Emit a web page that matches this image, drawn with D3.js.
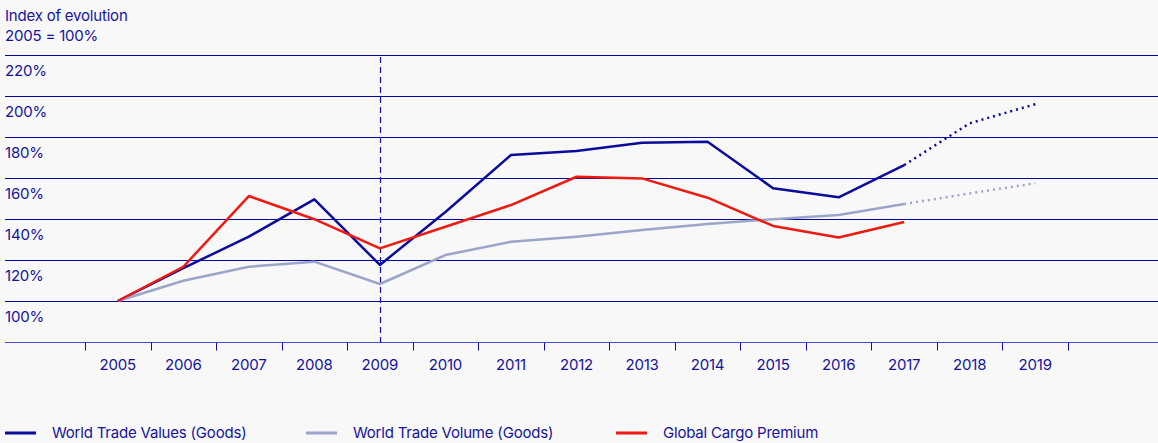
<!DOCTYPE html>
<html>
<head>
<meta charset="utf-8">
<script src="https://cdn.jsdelivr.net/npm/d3@7.9.0/dist/d3.min.js"></script>
<style>
  html, body { margin: 0; padding: 0; background: #f8f8f8; }
  svg { display: block; font-family: Inter, 'Noto Sans', sans-serif; }
  text { fill: #14149c; font-size: 15px; letter-spacing: -0.2px; }
</style>
</head>
<body>
<svg id="chart" width="1158" height="443"></svg>
<script>
const years = [2005, 2006, 2007, 2008, 2009, 2010, 2011, 2012, 2013, 2014, 2015, 2016, 2017, 2018, 2019];
const tradeValues = [100, 116, 131.4, 149.6, 117.6, 143.4, 171.2, 173.2, 177.2, 177.7, 155, 150.6, 166.3, 186.7, 196];
const tradeVolume = [100, 109.9, 116.7, 119.2, 108.3, 122.4, 128.9, 131.4, 134.6, 137.6, 139.9, 142, 147.3, 152.5, 157.4];
const cargoPremium = [100, 116.7, 151.2, 139.9, 125.7, 136.2, 146.8, 160.6, 159.8, 150.4, 136.6, 131, 138.5];
const yTicks = [100, 120, 140, 160, 180, 200, 220];
const lastActualYear = 2017;
const markerYear = 2009;

const series = [
  { name: 'World Trade Values (Goods)', values: tradeValues, color: '#0b0b9c' },
  { name: 'World Trade Volume (Goods)', values: tradeVolume, color: '#9ba5c9' },
  { name: 'Global Cargo Premium', values: cargoPremium, color: '#ee1a12' }
];

const width = 1158;
const svg = d3.select('#chart');

const x = d3.scaleBand().domain(years).range([85, 1068]);
const y = d3.scaleLinear().domain([80, 220]).range([342, 55]);
const cx = (yr) => x(yr) + x.bandwidth() / 2;

// title
svg.append('text').attr('x', 5).attr('y', 21).text('Index of evolution');
svg.append('text').attr('x', 5).attr('y', 41).text('2005 = 100%');

// gridlines with labels under each line
const grid = svg.append('g');
grid.selectAll('line')
  .data(yTicks)
  .join('line')
  .attr('x1', 5)
  .attr('x2', width)
  .attr('y1', (d) => Math.round(y(d)) + 0.5)
  .attr('y2', (d) => Math.round(y(d)) + 0.5)
  .attr('stroke', '#0606a0')
  .attr('stroke-width', 1);
grid.selectAll('text')
  .data(yTicks)
  .join('text')
  .attr('x', 5)
  .attr('y', (d) => y(d) + 20.5)
  .text((d) => `${d}%`);

// x axis baseline, ticks at band edges, labels at centres
const base = Math.round(y(80)) + 0.5;
svg.append('line')
  .attr('x1', 5).attr('x2', width)
  .attr('y1', base).attr('y2', base)
  .attr('stroke', '#4b4bcc').attr('stroke-width', 1);

const edges = years.map((d) => x(d)).concat([x(years[years.length - 1]) + x.bandwidth()]);
svg.append('g').selectAll('line')
  .data(edges)
  .join('line')
  .attr('x1', (d) => Math.round(d) + 0.5)
  .attr('x2', (d) => Math.round(d) + 0.5)
  .attr('y1', base)
  .attr('y2', base + 8)
  .attr('stroke', '#1010a0');

svg.append('g').selectAll('text')
  .data(years)
  .join('text')
  .attr('x', (d) => cx(d))
  .attr('y', 370)
  .attr('text-anchor', 'middle')
  .text((d) => d);

// dashed marker at 2009
svg.append('line')
  .attr('x1', Math.round(cx(markerYear)) + 0.5)
  .attr('x2', Math.round(cx(markerYear)) + 0.5)
  .attr('y1', 57)
  .attr('y2', base)
  .attr('stroke', '#1010b0')
  .attr('stroke-width', 1.2)
  .attr('stroke-dasharray', '6 4');

// lines
const line = d3.line()
  .x((d) => cx(d.year))
  .y((d) => y(d.value));

series.forEach((s) => {
  const pts = s.values.map((v, i) => ({ year: years[i], value: v }));
  const solid = pts.filter((p) => p.year <= lastActualYear);
  const dotted = pts.filter((p) => p.year >= lastActualYear);
  svg.append('path')
    .attr('d', line(solid))
    .attr('fill', 'none')
    .attr('stroke', s.color)
    .attr('stroke-width', 2.5)
    .attr('stroke-linejoin', 'round');
  if (dotted.length > 1) {
    svg.append('path')
      .attr('d', line(dotted))
      .attr('fill', 'none')
      .attr('stroke', s.color)
      .attr('stroke-width', 2.5)
      .attr('stroke-dasharray', '2 4');
  }
});

// legend
const legendX = [5, 306, 616];
const legend = svg.append('g')
  .selectAll('g')
  .data(series)
  .join('g')
  .attr('transform', (d, i) => `translate(${legendX[i]},433)`);
legend.append('line')
  .attr('x1', 0).attr('x2', 31)
  .attr('stroke', (d) => d.color)
  .attr('stroke-width', 3);
legend.append('text')
  .attr('x', 47)
  .attr('y', 5)
  .text((d) => d.name);
</script>
</body>
</html>
